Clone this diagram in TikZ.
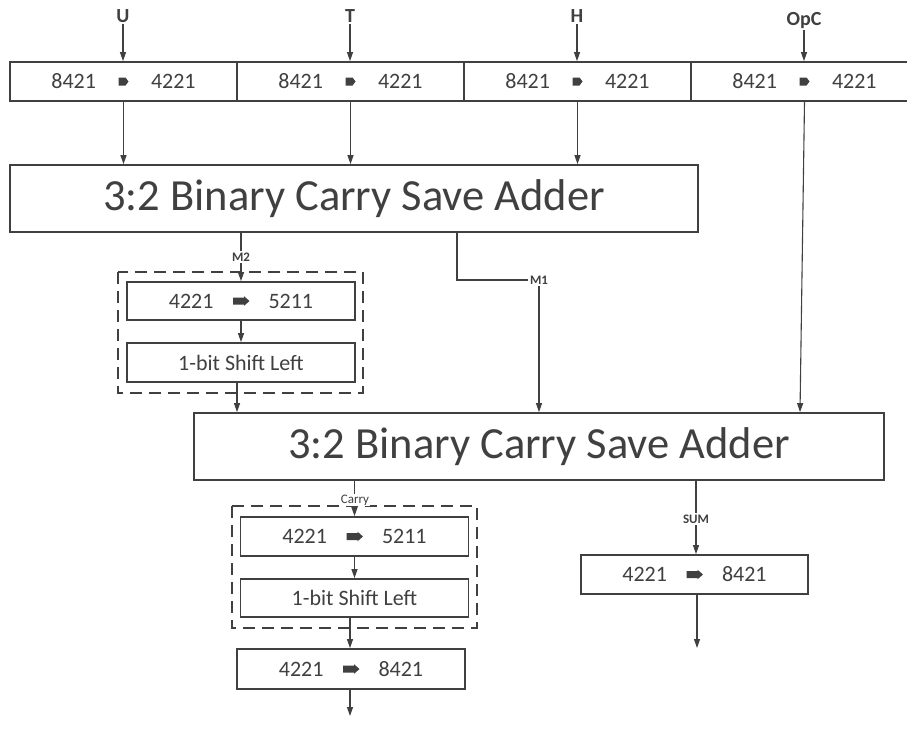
\documentclass[tikz,border=0pt]{standalone}
\usepackage{fontspec}
\setmainfont{Carlito}
\usetikzlibrary{arrows.meta}
\definecolor{ink}{HTML}{404040}
\begin{document}
\begin{tikzpicture}[x=1pt,y=-1pt,
  every node/.style={text=ink},
  box/.style={draw=ink, line width=1.8pt, inner sep=0pt, fill=white},
  convbox/.style={box, minimum width=228pt, minimum height=38pt,
                  font=\fontsize{22pt}{26pt}\selectfont},
  csabox/.style={box, minimum height=67pt,
                 font=\fontsize{44.5pt}{50pt}\selectfont},
  grp/.style={draw=ink, line width=1.8pt, dash pattern=on 12pt off 7pt},
  conn/.style={draw=ink, line width=1.1pt},
  arr/.style={conn, -{Triangle[length=9pt,width=6pt]}},
  inlbl/.style={font=\bfseries\fontsize{20pt}{22pt}\selectfont, inner sep=1pt},
  wlbl/.style={font=\bfseries\fontsize{13pt}{15pt}\selectfont, fill=white, inner sep=1.5pt},
  blockarr/.pic={\fill[ink] (-8,-3.5) -- (3,-3.5) -- (3,-4.8) -- (8.5,0) -- (3,4.8) -- (3,3.5) -- (-8,3.5) -- cycle;},
  smallarr/.pic={\fill[ink] (-5,-4) -- (2,-4) -- (5,0) -- (2,4) -- (-5,4) -- cycle;}
]
\clip (0,0) rectangle (907,740);
\fill[white] (0,0) rectangle (907,740);

% input conversion row
\node[convbox, minimum width=227pt, minimum height=39pt] (tb1) at (123.5,81.5) {8421\hspace{55pt}4221};
\node[convbox, minimum width=227pt, minimum height=39pt] (tb2) at (350.5,81.5) {8421\hspace{55pt}4221};
\node[convbox, minimum width=227pt, minimum height=39pt] (tb3) at (577.5,81.5) {8421\hspace{55pt}4221};
\node[convbox, minimum width=227pt, minimum height=39pt] (tb4) at (804.5,81.5) {8421\hspace{55pt}4221};
\foreach \b in {tb1,tb2,tb3,tb4} \pic at (\b.center) {smallarr};

% operand labels
\node[inlbl] (u) at (123,16) {U};
\node[inlbl] (t) at (350,16) {T};
\node[inlbl] (h) at (577,16) {H};
\node[inlbl] (opc) at (804,21) {OpC};
\draw[arr] (u.south) -- (u.south |- tb1.north);
\draw[arr] (t.south) -- (t.south |- tb2.north);
\draw[arr] (h.south) -- (h.south |- tb3.north);
\draw[arr] (opc.south) -- (opc.south |- tb4.north);

% first carry save adder
\node[csabox, minimum width=688pt] (csa1) at (354,198.5) {3:2 Binary Carry Save Adder};
\draw[arr] (tb1.south) -- (tb1.south |- csa1.north);
\draw[arr] (tb2.south) -- (tb2.south |- csa1.north);
\draw[arr] (tb3.south) -- (tb3.south |- csa1.north);

% M2 path: recode and shift
\draw[grp] (118,272) rectangle (363,393);
\node[convbox] (cb1) at (241,301) {4221\hspace{55pt}5211};
\pic at (cb1.center) {blockarr};
\node[convbox, minimum height=39pt] (sb1) at (241,362.5) {1-bit Shift Left};
\draw[arr] (csa1.south -| cb1.north) -- node[wlbl, pos=0.5] (m2) {M2} (cb1.north);
\draw[arr] (cb1.south) -- (sb1.north);

% second carry save adder
\node[csabox, minimum width=690pt] (csa2) at (539,446.5) {3:2 Binary Carry Save Adder};
\draw[arr] (sb1.south -| 237,0) -- (csa2.north -| 237,0);
\node[wlbl, fill=none] (m1) at (539,280) {M1};
\draw[conn] (csa1.south -| 457,0) |- (m1.west);
\draw[arr] (m1.south) -- (m1.south |- csa2.north);
\draw[arr] (tb4.south) -- (csa2.north -| 800,0);

% carry output path
\draw[grp] (232,506) rectangle (477,628);
\node[convbox, minimum height=39pt] (cb2) at (354.5,536.5) {4221\hspace{55pt}5211};
\pic at (cb2.center) {blockarr};
\node[convbox] (sb2) at (354.5,598) {1-bit Shift Left};
\node[convbox, minimum height=40pt] (cb3) at (351,669) {4221\hspace{55pt}8421};
\pic at (cb3.center) {blockarr};
\draw[arr] (csa2.south -| cb2.north) -- (cb2.north);
\node[wlbl, font=\fontsize{13pt}{15pt}\selectfont, fill=white, inner sep=0.5pt] (carry) at (355,500) {Carry};
\draw[arr] (cb2.south) -- (sb2.north);
\draw[arr] (sb2.south -| 350,0) -- (cb3.north -| 350,0);
\coordinate (cout) at (350,716);
\draw[arr] (cb3.south -| cout) -- (cout);

% sum output path
\node[convbox, minimum width=227pt, minimum height=39pt] (sm) at (694.5,574.5) {4221\hspace{55pt}8421};
\pic at (sm.center) {blockarr};
\draw[arr] (csa2.south -| 696,0) -- node[wlbl, pos=0.52] (sumlbl) {SUM} (sm.north -| 696,0);
\coordinate (sout) at (697,648);
\draw[arr] (sm.south -| sout) -- (sout);
\end{tikzpicture}
\end{document}
